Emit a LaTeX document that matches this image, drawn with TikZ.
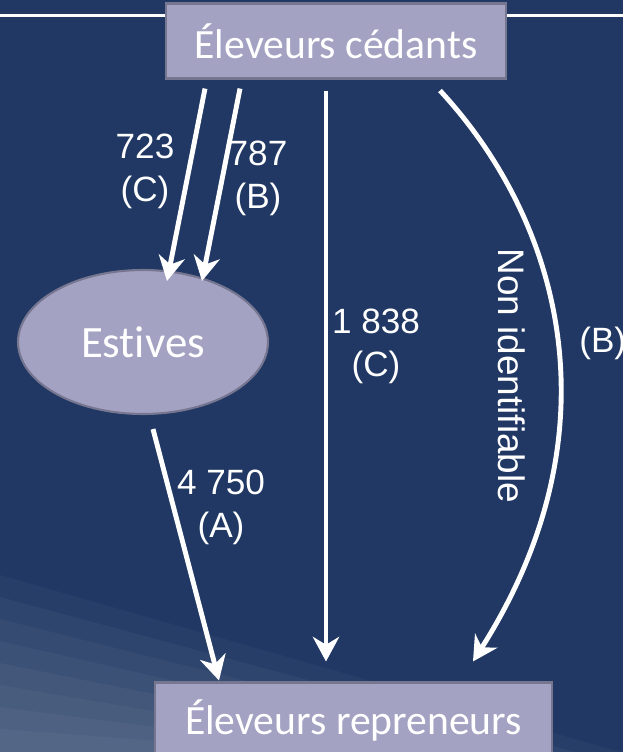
\documentclass[tikz,border=0pt]{standalone}
\usepackage{fontspec}
\setmainfont{Carlito}[Ligatures=NoCommon]
\newfontfamily\arialfont{Liberation Sans}
\usetikzlibrary{arrows.meta,shapes.geometric,calc}
\definecolor{fond}{RGB}{32,56,99}
\definecolor{lavande}{RGB}{163,162,194}
\definecolor{bord}{RGB}{118,118,144}
\tikzset{
  boite/.style={draw=bord, line width=1.2pt, fill=lavande, text=white,
    font=\fontsize{23.7}{28}\selectfont, minimum height=1.5cm, inner sep=0pt},
  fleche/.style={draw=white, line width=2.8pt,
    -{Stealth[length=14pt, width=15pt, inset=4.5pt]}},
  chiffre/.style={text=white, font=\arialfont\fontsize{20}{24.5}\selectfont,
    align=center, inner sep=0pt},
}

\begin{document}
\begin{tikzpicture}[x=0.02cm,y=-0.02cm]
        \useasboundingbox (0,0) rectangle (623,752);
        \clip (0,0) rectangle (623,752);
        \fill[fond] (0,0) rectangle (623,752);
        % lighter streaks bottom left
        \foreach \i in {0,...,7}
          \fill[white, opacity=0.035] (0,{575+22*\i}) -- ({620-45*\i},752) -- (0,752) -- cycle;
        \draw[white, line width=1.3pt] (0,15.5) -- (623,15.5);

        \node[boite, minimum width=6.8cm](ced) at (336,41) {Éleveurs cédants};
        \node[boite, ellipse, minimum width=5cm, minimum height=2.88cm,
          font=\fontsize{25.5}{30}\selectfont](est) at (143,342) {Estives};
        \node[boite, minimum width=7.94cm](rep) at (353.5,720) {Éleveurs repreneurs};

        \draw[fleche]($(ced.south)+(-131,9)$)--($(est.north)+(24,12)$);
        \draw[fleche]($(ced.south)+(-96,9)$)--($(est.north)+(59,12)$);
        \draw[fleche]($(ced.south)+(-10,11)$)--($(rep.north)+(-27.5,-20)$);
        \draw[fleche]($(ced.south)+(104,11)$) .. controls (560,220) and (620,430) .. ($(rep.north)+(119.5,-20)$);
        \draw[fleche]($(est.south)+(10,14)$)--($(rep.north)+(-134.5,-1)$);

        \node[chiffre](n723) at (145,171) {723\\(C)};
        \node[chiffre](n787) at (258,178) {787\\(B)};
        \node[chiffre](n1838) at (376,346) {1 838\\(C)};
        \node[chiffre](n4750) at (221,507) {4 750\\(A)};
        \node[chiffre, rotate=-90, font=\arialfont\fontsize{21}{24}\selectfont](nonid) at (512,376) {Non identifiable};
        \node[chiffre, anchor=west](nb) at (579,343) {(B)};
        \end{tikzpicture}
\end{document}
